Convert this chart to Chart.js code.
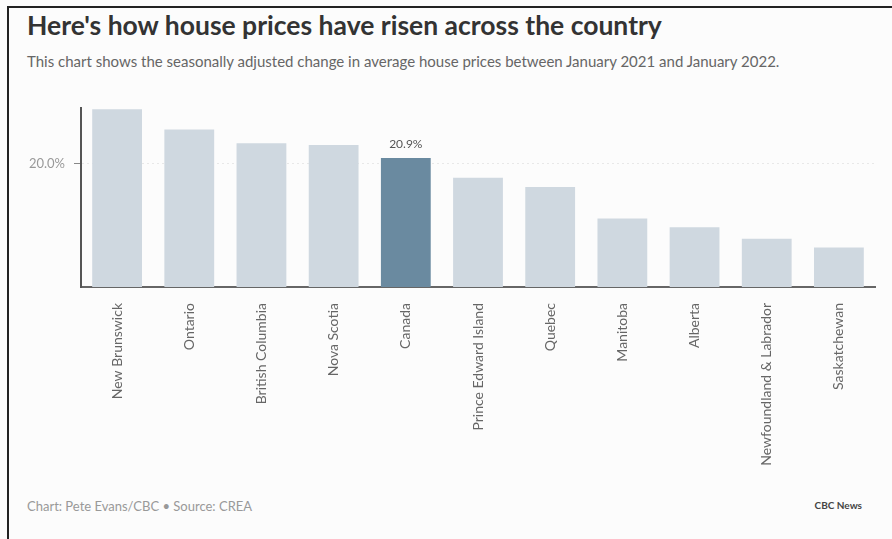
<!DOCTYPE html>
<html>
<head>
<meta charset="utf-8">
<script src="https://cdn.jsdelivr.net/npm/chart.js@4/dist/chart.umd.min.js"></script>
<style>
  html, body { margin: 0; padding: 0; background: #fcfcfc; }
  body { width: 892px; height: 539px; position: relative; overflow: hidden; font-family: Lato, "Open Sans", sans-serif; }
  .frame-top { position: absolute; left: 7px; top: 6px; width: 885px; height: 2px; background: #222; }
  .frame-left { position: absolute; left: 7px; top: 6px; width: 2px; height: 533px; background: #222; }
  #title { position: absolute; left: 27px; top: 9px; font-size: 26.5px; font-weight: 700; color: #333; white-space: nowrap; }
  #subtitle { position: absolute; left: 27px; top: 52px; font-size: 15px; color: #666; white-space: nowrap; }
  #credit { position: absolute; left: 27px; top: 498px; font-size: 13px; color: #999; }
  #brand { position: absolute; right: 30px; top: 499px; font-size: 10px; font-weight: 700; color: #444; }
  #chart-box { position: absolute; left: 0; top: 90px; width: 892px; height: 387px; }
</style>
</head>
<body>
<div class="frame-top"></div>
<div class="frame-left"></div>
<div id="title">Here's how house prices have risen across the country</div>
<div id="subtitle">This chart shows the seasonally adjusted change in average house prices between January 2021 and January 2022.</div>
<div id="chart-box"><canvas id="chart"></canvas></div>
<div id="credit">Chart: Pete Evans/CBC • Source: CREA</div>
<div id="brand">CBC News</div>
<script>
// --- ДАННЫЕ ---
const provinces = ['New Brunswick', 'Ontario', 'British Columbia', 'Nova Scotia', 'Canada',
    'Prince Edward Island', 'Quebec', 'Manitoba', 'Alberta', 'Newfoundland & Labrador', 'Saskatchewan'];
const priceChange = [28.8, 25.5, 23.3, 23.0, 20.9, 17.7, 16.2, 11.1, 9.7, 7.8, 6.4];
const yTicks = [20];
const highlighted = 'Canada';

const barColors = provinces.map(p => p === highlighted ? '#6a8aa0' : '#cfd8e0');

// подпись над выделенным столбцом
const valueLabel = {
    id: 'valueLabel',
    afterDatasetsDraw(chart) {
        const ctx = chart.ctx;
        const meta = chart.getDatasetMeta(0);
        const i = provinces.indexOf(highlighted);
        const bar = meta.data[i];
        ctx.save();
        ctx.font = '12px Lato, sans-serif';
        ctx.fillStyle = '#555';
        ctx.textAlign = 'center';
        ctx.textBaseline = 'bottom';
        ctx.fillText(priceChange[i].toFixed(1) + '%', bar.x, bar.y - 8);
        ctx.restore();
    }
};

new Chart(document.getElementById('chart'), {
    type: 'bar',
    data: {
        labels: provinces,
        datasets: [{
            data: priceChange,
            backgroundColor: barColors,
            barPercentage: 0.69,
            categoryPercentage: 1
        }]
    },
    options: {
        responsive: true,
        maintainAspectRatio: false,
        animation: false,
        layout: { padding: { top: 18, right: 17, left: 0, bottom: 0 } },
        plugins: { legend: { display: false }, tooltip: { enabled: false } },
        scales: {
            x: {
                grid: { display: false },
                border: { color: '#666', width: 2 },
                ticks: {
                    minRotation: 90, maxRotation: 90, autoSkip: false, padding: 8,
                    color: '#666', font: { family: 'Lato', size: 14 }
                },
                afterFit(scale) { scale.height = 190; }
            },
            y: {
                min: 0,
                max: 29,
                afterBuildTicks(scale) { scale.ticks = yTicks.map(v => ({ value: v })); },
                grid: { color: '#e8e8e8', tickColor: '#888', tickLength: 7, lineWidth: 1 },
                border: { color: '#555', width: 2, dash: [2, 3] },
                ticks: {
                    padding: 9, color: '#999', font: { family: 'Lato', size: 13 },
                    callback: v => v.toFixed(1) + '%'
                },
                afterFit(scale) { scale.width = 81; }
            }
        }
    },
    plugins: [valueLabel]
});
</script>
</body>
</html>
